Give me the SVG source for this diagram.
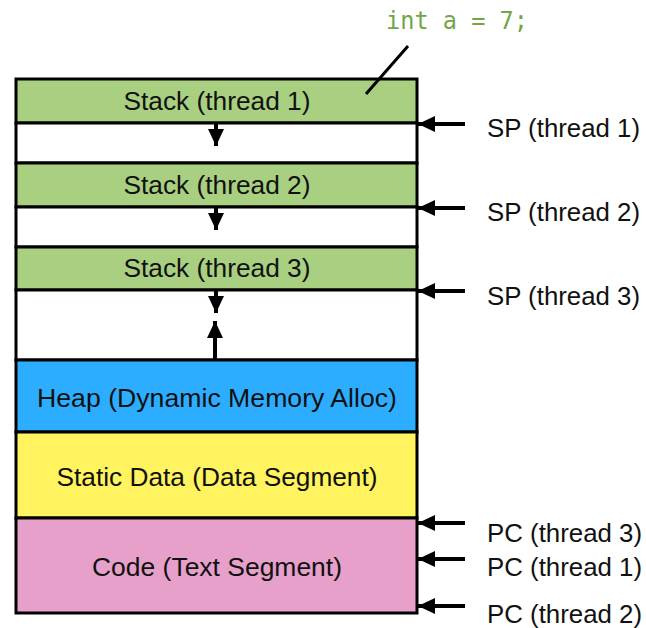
<svg xmlns="http://www.w3.org/2000/svg" width="646" height="628" viewBox="0 0 646 628">
<style>
.seg{stroke:#000;stroke-width:3}
.lbl{font-family:"Liberation Sans",Arial,sans-serif;font-size:26px;fill:#111;text-anchor:middle}
.side{font-family:"Liberation Sans",Arial,sans-serif;font-size:25.5px;fill:#111}
.code{font-family:"DejaVu Sans Mono","Liberation Mono",monospace;font-size:24px;fill:#70A646}
.conn{stroke:#000;stroke-width:4;fill:none}
</style>
<defs>
<marker id="ah" markerUnits="userSpaceOnUse" markerWidth="18" markerHeight="16" refX="17" refY="8" orient="auto">
<path d="M0,0 L17,8 L0,16 Z" fill="#000"/>
</marker>
</defs>
<rect x="0" y="0" width="646" height="628" fill="#fff"/>
<g id="stack1"><rect class="seg" x="16" y="79" width="401" height="44" fill="#A9CF80"/><text class="lbl" x="217" y="110" textLength="187" lengthAdjust="spacingAndGlyphs">Stack (thread 1)</text></g>
<g id="gap1"><rect class="seg" x="16" y="123" width="401" height="40" fill="#fff"/></g>
<g id="stack2"><rect class="seg" x="16" y="163" width="401" height="44" fill="#A9CF80"/><text class="lbl" x="217" y="194" textLength="187" lengthAdjust="spacingAndGlyphs">Stack (thread 2)</text></g>
<g id="gap2"><rect class="seg" x="16" y="207" width="401" height="40" fill="#fff"/></g>
<g id="stack3"><rect class="seg" x="16" y="247" width="401" height="43" fill="#A9CF80"/><text class="lbl" x="217" y="277" textLength="187" lengthAdjust="spacingAndGlyphs">Stack (thread 3)</text></g>
<g id="gap3"><rect class="seg" x="16" y="290" width="401" height="70" fill="#fff"/></g>
<g id="heap"><rect class="seg" x="16" y="360" width="401" height="72" fill="#2CADFF"/><text class="lbl" x="217" y="407" textLength="360" lengthAdjust="spacingAndGlyphs">Heap (Dynamic Memory Alloc)</text></g>
<g id="static"><rect class="seg" x="16" y="432" width="401" height="86" fill="#FFF35F"/><text class="lbl" x="217" y="486" textLength="321" lengthAdjust="spacingAndGlyphs">Static Data (Data Segment)</text></g>
<g id="code"><rect class="seg" x="16" y="518" width="401" height="95" fill="#E6A0CA"/><text class="lbl" x="217" y="576" textLength="250" lengthAdjust="spacingAndGlyphs">Code (Text Segment)</text></g>
<g id="annotation"><text class="code" x="386" y="29" textLength="142" lengthAdjust="spacingAndGlyphs">int a = 7;</text></g>
<g id="labels">
<text class="side" x="487" y="137" textLength="153" lengthAdjust="spacingAndGlyphs">SP (thread 1)</text>
<text class="side" x="487" y="221" textLength="153" lengthAdjust="spacingAndGlyphs">SP (thread 2)</text>
<text class="side" x="487" y="305" textLength="153" lengthAdjust="spacingAndGlyphs">SP (thread 3)</text>
<text class="side" x="487" y="542" textLength="155" lengthAdjust="spacingAndGlyphs">PC (thread 3)</text>
<text class="side" x="487" y="576" textLength="155" lengthAdjust="spacingAndGlyphs">PC (thread 1)</text>
<text class="side" x="487" y="623" textLength="155" lengthAdjust="spacingAndGlyphs">PC (thread 2)</text>
</g>
<g id="connectors">
<line x1="408" y1="46" x2="366" y2="94" stroke="#000" stroke-width="3"/>
<line class="conn" x1="216" y1="124" x2="216" y2="146" stroke-width="3" marker-end="url(#ah)"/>
<line class="conn" x1="216" y1="208" x2="216" y2="230" stroke-width="3" marker-end="url(#ah)"/>
<line class="conn" x1="216" y1="291" x2="216" y2="313" stroke-width="3" marker-end="url(#ah)"/>
<line class="conn" x1="215" y1="360" x2="215" y2="321" marker-end="url(#ah)"/>
<line class="conn" x1="465" y1="124" x2="418" y2="124" marker-end="url(#ah)"/>
<line class="conn" x1="465" y1="208" x2="418" y2="208" marker-end="url(#ah)"/>
<line class="conn" x1="465" y1="291" x2="418" y2="291" marker-end="url(#ah)"/>
<line class="conn" x1="465" y1="523" x2="418" y2="523" marker-end="url(#ah)"/>
<line class="conn" x1="465" y1="559" x2="418" y2="559" marker-end="url(#ah)"/>
<line class="conn" x1="465" y1="606" x2="418" y2="606" marker-end="url(#ah)"/>
</g>
</svg>
